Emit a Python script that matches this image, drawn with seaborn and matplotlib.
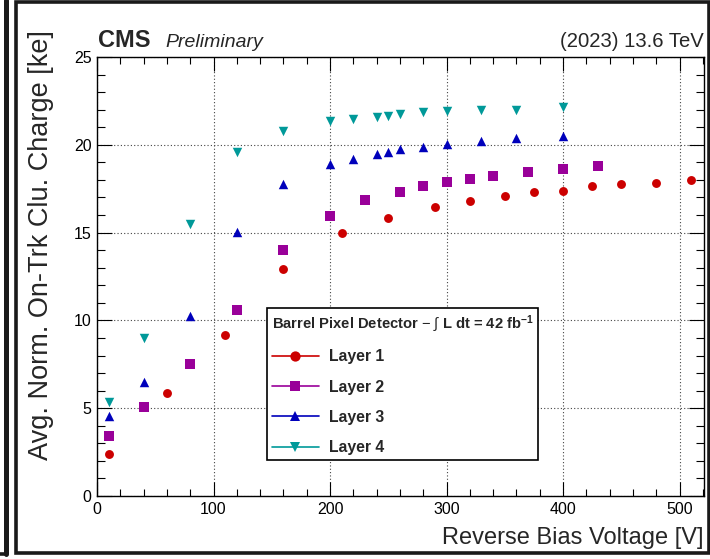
import numpy as np
import pandas as pd
import matplotlib
matplotlib.use("Agg")
import matplotlib.pyplot as plt
import seaborn as sns
from matplotlib.lines import Line2D
from matplotlib.patches import Rectangle
from matplotlib.ticker import MultipleLocator

# ---------------- data ----------------
layer1_voltage = [10, 60, 110, 160, 210, 250, 290, 320, 350, 375, 400, 425, 450, 480, 510]
layer1_charge = [2.38, 5.86, 9.17, 12.9, 14.95, 15.85, 16.45, 16.78, 17.1, 17.32, 17.38, 17.63, 17.76, 17.82, 17.97]

layer2_voltage = [10, 40, 80, 120, 160, 200, 230, 260, 280, 300, 320, 340, 370, 400, 430]
layer2_charge = [3.39, 5.08, 7.52, 10.58, 14.0, 15.94, 16.84, 17.33, 17.68, 17.86, 18.07, 18.2, 18.47, 18.6, 18.8]

layer3_voltage = [10, 40, 80, 120, 160, 200, 220, 240, 250, 260, 280, 300, 330, 360, 400]
layer3_charge = [4.58, 6.49, 10.23, 15.05, 17.75, 18.9, 19.2, 19.5, 19.6, 19.75, 19.86, 20.03, 20.2, 20.38, 20.5]

layer4_voltage = [10, 40, 80, 120, 160, 200, 220, 240, 250, 260, 280, 300, 330, 360, 400]
layer4_charge = [5.38, 9.02, 15.5, 19.6, 20.8, 21.36, 21.46, 21.6, 21.65, 21.77, 21.84, 21.9, 21.96, 22.0, 22.13]

layer_names = ["Layer 1", "Layer 2", "Layer 3", "Layer 4"]
x_ticks = [0, 100, 200, 300, 400, 500]
y_ticks = [0, 5, 10, 15, 20, 25]

legend_title = r"Barrel Pixel Detector $-$ $\int$ L dt = 42 fb$^{\mathbf{-1}}$"
x_title = "Reverse Bias Voltage [V]"
y_title = "Avg. Norm. On-Trk Clu. Charge [ke]"

# ---------------- style ----------------
sns.set_style("ticks")
plt.rcParams["font.family"] = ["Liberation Sans", "DejaVu Sans"]
plt.rcParams["mathtext.fontset"] = "custom"
plt.rcParams["mathtext.rm"] = "Liberation Sans"
plt.rcParams["mathtext.bf"] = "Liberation Sans:bold"
plt.rcParams["mathtext.it"] = "Liberation Sans:italic"

W, H = 710, 559
fig = plt.figure(figsize=(W / 100, H / 100), dpi=100)
fig.patch.set_facecolor("white")


def fx(px):
    return px / W


def fy(py):
    return 1 - py / H


ax = fig.add_axes([fx(97), fy(496), fx(704) - fx(97), fy(57) - fy(496)])
ax.set_facecolor("white")

colors = ["#cc0000", "#990099", "#0000bb", "#009999"]
markers = ["o", "s", "^", "v"]
msizes = [6.4, 6.6, 6.8, 6.8]
voltages = [layer1_voltage, layer2_voltage, layer3_voltage, layer4_voltage]
charges = [layer1_charge, layer2_charge, layer3_charge, layer4_charge]

frames = []
for name, v, q in zip(layer_names, voltages, charges):
    frames.append(pd.DataFrame({"voltage": v, "charge": q, "layer": name}))
df = pd.concat(frames, ignore_index=True)

for name, c, m, ms in zip(layer_names, colors, markers, msizes):
    sub = df[df["layer"] == name]
    sns.scatterplot(data=sub, x="voltage", y="charge", ax=ax, color=c,
                    marker=m, s=ms ** 2, linewidth=0, legend=False, zorder=3)

ax.set_xlim(0, 521)
ax.set_ylim(0, 25)
ax.set_xticks(x_ticks)
ax.set_yticks(y_ticks)
ax.xaxis.set_minor_locator(MultipleLocator(20))
ax.yaxis.set_minor_locator(MultipleLocator(1))
ax.tick_params(which="both", direction="in", top=True, right=True,
               colors="black", width=0.8)
ax.tick_params(axis="both", which="major", labelsize=11.5)
ax.tick_params(axis="x", which="major", length=10, pad=4)
ax.tick_params(axis="x", which="minor", length=5)
ax.tick_params(axis="y", which="major", length=11, pad=4)
ax.tick_params(axis="y", which="minor", length=5.5)
for sp in ax.spines.values():
    sp.set_color("black")
    sp.set_linewidth(1.0)
ax.grid(True, which="major", linestyle=(0, (1, 2)), color="#444444", linewidth=0.8)
ax.set_axisbelow(True)

ax.set_xlabel(x_title, fontsize=17, loc="right")
ax.xaxis.label.set_verticalalignment("baseline")
ax.xaxis.set_label_coords(1.0, (496 - 544) / 439)
ax.set_ylabel(y_title, fontsize=19.5, loc="top")
ax.yaxis.set_label_coords((54 - 97) / 607, (496 - 30) / 439)

handles = [Line2D([0], [0], color=c, marker=m, markersize=ms + 1.0, lw=1.2,
                  markeredgewidth=0) for c, m, ms in zip(colors, markers, msizes)]
leg = ax.legend(handles, layer_names, title=legend_title, loc="lower left",
                bbox_to_anchor=(fx(267), fy(460)), bbox_transform=fig.transFigure,
                frameon=True, fancybox=False, edgecolor="black", framealpha=1,
                prop={"weight": "bold", "size": 11.3},
                title_fontproperties={"weight": "bold", "size": 10.6},
                alignment="left", handlelength=3.0, handletextpad=0.65,
                labelspacing=0.98, borderpad=0.3, borderaxespad=0)
leg.get_frame().set_linewidth(1.2)
leg.set_zorder(5)

fig.text(fx(98), fy(47), "CMS", weight="bold", size=17, va="baseline")
fig.text(fx(165), fy(47), "Preliminary", style="italic", size=14, va="baseline")
fig.text(fx(704), fy(47), "(2023) 13.6 TeV", ha="right", size=14.6, va="baseline")

# screenshot frames
fig.add_artist(Rectangle((fx(16), fy(552.5)), fx(708.5) - fx(16), fy(1.5) - fy(552.5),
                         transform=fig.transFigure, fill=False, edgecolor="#1a1a1a",
                         linewidth=2.6))
fig.add_artist(Line2D([fx(5.5), fx(5.5)], [fy(0), fy(553.5)], transform=fig.transFigure,
                      color="#1a1a1a", linewidth=3.6))
fig.add_artist(Line2D([fx(0), fx(5.5)], [fy(553.5), fy(553.5)], transform=fig.transFigure,
                      color="#1a1a1a", linewidth=2.6))

fig.savefig("out.png", dpi=100)
